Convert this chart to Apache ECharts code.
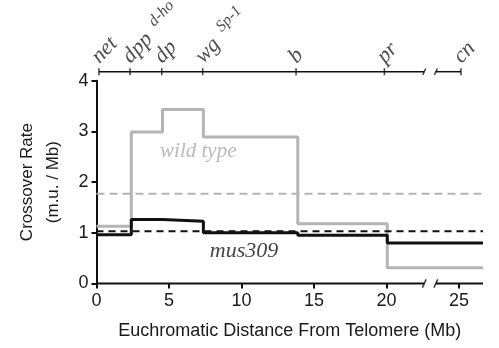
<!DOCTYPE html>
<html><head><meta charset="utf-8">
<script src="https://cdn.jsdelivr.net/npm/echarts@6/dist/echarts.min.js"></script>
<style>html,body{margin:0;padding:0;background:#fff}#c{width:499px;height:348px}</style>
</head><body><div id="c"></div>
<script>
// ---- data ----
const bottomTicks = [0, 5, 10, 15, 20, 25];
const segStarts = [0, 2.4, 4.55, 7.37, 13.88, 20.05];
const axisEnd = 26.65;
const wildType = [1.13, 2.99, 3.43, 2.89, 1.18, 0.31];
const mus309 = [0.96, 1.26, 1.23, 1.00, 0.95, 0.80];
const wildTypeMean = 1.77;
const mus309Mean = 1.03;
const genes = ['net', 'dpp', 'dp', 'wg', 'b', 'pr', 'cn'];
const geneSup = ['', 'd-ho', '', 'Sp-1', '', '', ''];
const genePos = [0.17, 2.31, 4.5, 7.32, 13.76, 19.85, 25.13];
const breakStart = 22.6, breakEnd = 23.4;

// ---- helpers ----
const GRAY = '#b4b4b4', BLACK = '#111';
function stepPts(vals) {
  const p = segStarts.map((s, i) => [s, vals[i]]);
  p.push([axisEnd, vals[vals.length - 1]]);
  return p;
}
function seg(a, b, y, xi, yi, w) {
  return { type: 'line', xAxisIndex: xi, yAxisIndex: yi, data: [[a, y], [b, y]], symbol: 'none',
    clip: false, silent: true, lineStyle: { color: BLACK, width: w }, z: 5 };
}
const chart = echarts.init(document.getElementById('c'), null, { renderer: 'canvas' });
const SANS = 'Liberation Sans', SERIF = 'Liberation Serif';
chart.setOption({
  animation: false,
  backgroundColor: '#fff',
  grid: [
    { left: 96.5, right: 16, top: 80.7, bottom: 64.5 },
    { left: 96.5, right: 16, top: 71.7, height: 10 }
  ],
  xAxis: [
    { type: 'value', gridIndex: 0, min: 0, max: axisEnd, interval: 5,
      axisLine: { show: false },
      axisTick: { show: true, customValues: bottomTicks, length: 5, lineStyle: { color: BLACK, width: 2 } },
      axisLabel: { customValues: bottomTicks, fontSize: 18, fontFamily: SANS, color: '#1a1a1a', margin: 9 },
      splitLine: { show: false },
      name: 'Euchromatic Distance From Telomere (Mb)', nameLocation: 'middle', nameGap: 39,
      nameTextStyle: { fontSize: 18, fontFamily: SANS, color: '#1a1a1a' } },
    { type: 'value', gridIndex: 1, min: 0, max: axisEnd, show: false }
  ],
  yAxis: [
    { type: 'value', gridIndex: 0, min: 0, max: 4, interval: 1,
      axisLine: { show: true, lineStyle: { color: BLACK, width: 2 } },
      axisTick: { show: true, length: 5, lineStyle: { color: BLACK, width: 2 } },
      axisLabel: { fontSize: 18, fontFamily: SANS, color: '#1a1a1a', margin: 8 },
      splitLine: { show: false },
      name: 'Crossover Rate\n(m.u. / Mb)', nameLocation: 'middle', nameGap: 30,
      nameTextStyle: { fontSize: 17, fontFamily: SANS, color: '#1a1a1a', lineHeight: 26 } },
    { type: 'value', gridIndex: 1, min: 0, max: 1, show: false }
  ],
  series: [
    { type: 'line', step: 'end', data: stepPts(wildType), symbol: 'none', silent: true,
      lineStyle: { color: GRAY, width: 3 }, z: 2 },
    { type: 'line', step: 'end', data: stepPts(mus309), symbol: 'none', silent: true,
      lineStyle: { color: BLACK, width: 3 }, z: 3 },
    { type: 'line', data: [[0, wildTypeMean], [axisEnd, wildTypeMean]], symbol: 'none', silent: true,
      lineStyle: { color: GRAY, width: 2, type: [8, 5] }, z: 2 },
    { type: 'line', data: [[0, mus309Mean], [axisEnd, mus309Mean]], symbol: 'none', silent: true,
      lineStyle: { color: BLACK, width: 2, type: [7, 5] }, z: 4 },
    // bottom axis line with break
    seg(0, breakStart, 0, 0, 0, 2),
    seg(breakEnd, axisEnd, 0, 0, 0, 2),
    { type: 'scatter', data: [[breakStart, 0], [breakEnd, 0]], symbol: 'rect', symbolSize: [1.6, 9],
      symbolRotate: -25, itemStyle: { color: BLACK }, clip: false, silent: true, z: 6 },
    // top gene axis
    seg(genePos[0], breakStart, 1, 1, 1, 1.5),
    seg(breakEnd, genePos[genePos.length - 1], 1, 1, 1, 1.5),
    { type: 'scatter', xAxisIndex: 1, yAxisIndex: 1, data: [[breakStart, 1], [breakEnd, 1]],
      symbol: 'rect', symbolSize: [1.5, 7], symbolRotate: -25, itemStyle: { color: BLACK }, clip: false, silent: true, z: 6 },
    { type: 'scatter', xAxisIndex: 1, yAxisIndex: 1,
      data: genes.map((g, i) => ({ value: [genePos[i], 1], name: g, sup: geneSup[i] })),
      symbol: 'rect', symbolSize: [1.5, 7], itemStyle: { color: BLACK }, clip: false, silent: true, z: 6,
      label: { show: true, position: 'top', distance: 2, rotate: 46, align: 'left', verticalAlign: 'bottom',
        offset: [2, 8],
        formatter: p => p.data.sup ? `{b|${p.name}}{s|${p.data.sup}}` : `{b|${p.name}}`,
        rich: {
          b: { fontSize: 22, fontFamily: SERIF, fontStyle: 'italic', color: '#222', lineHeight: 30 },
          s: { fontSize: 16, fontFamily: SERIF, fontStyle: 'italic', color: '#222', lineHeight: 20,
               verticalAlign: 'top', padding: [0, 0, 0, 10] }
        } } },
    // annotations
    { type: 'scatter', data: [{ value: [7.02, 2.6], name: 'wild type' }], symbolSize: 0, silent: true,
      label: { show: true, position: 'inside', formatter: '{b}', fontSize: 21, fontFamily: SERIF, fontStyle: 'italic', color: '#a8a8a8' } },
    { type: 'scatter', data: [{ value: [10.17, 0.64], name: 'mus309' }], symbolSize: 0, silent: true,
      label: { show: true, position: 'inside', formatter: '{b}', fontSize: 22, fontFamily: SERIF, fontStyle: 'italic', color: '#111' } }
  ]
});
</script></body></html>
